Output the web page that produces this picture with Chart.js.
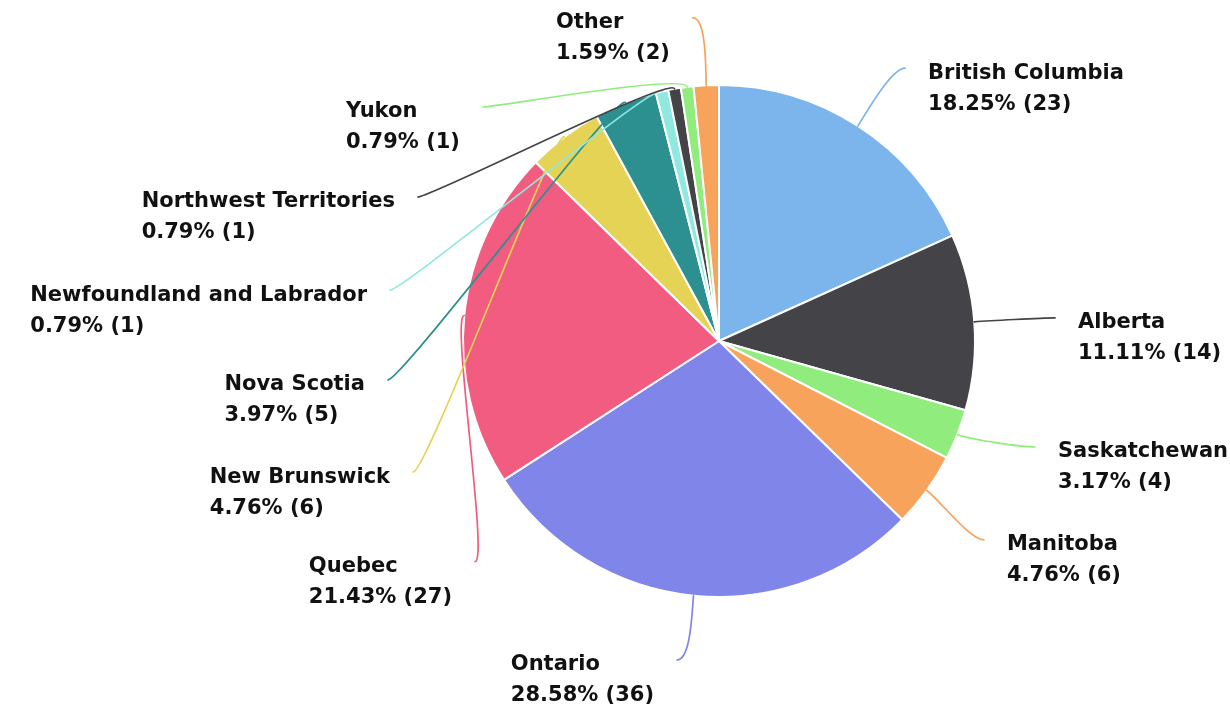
<!DOCTYPE html>
<html>
<head>
<meta charset="utf-8">
<script src="https://cdn.jsdelivr.net/npm/chart.js@4.4.1/dist/chart.umd.min.js"></script>
<style>
  html, body { margin: 0; padding: 0; background: #ffffff; }
  #wrap { width: 1230px; height: 708px; position: relative; }
</style>
</head>
<body>
<div id="wrap"><canvas id="c" width="1230" height="708"></canvas></div>
<script>
// ---- data ----
const categories = ['British Columbia', 'Alberta', 'Saskatchewan', 'Manitoba', 'Ontario', 'Quebec',
  'New Brunswick', 'Nova Scotia', 'Newfoundland and Labrador', 'Northwest Territories', 'Yukon', 'Other'];
const counts = [23, 14, 4, 6, 36, 27, 6, 5, 1, 1, 1, 2];
const percentLabels = ['18.25%', '11.11%', '3.17%', '4.76%', '28.58%', '21.43%',
  '4.76%', '3.97%', '0.79%', '0.79%', '0.79%', '1.59%'];

// ---- styling ----
const sliceColors = ['#7cb5ec', '#434348', '#90ed7d', '#f7a35c', '#8085e9', '#f15c80',
  '#e4d354', '#2b908f', '#91e8e1', '#434348', '#90ed7d', '#f7a35c'];
// label connector end points, in units of the pie radius relative to the pie centre
const labelAnchorX = [0.727, 1.3125, 1.234, 1.035, -0.164, -0.953, -1.195, -1.293, -1.285, -1.176, -0.922, -0.102];
const labelAnchorY = [-1.066, -0.090, 0.414, 0.777, 1.246, 0.862, 0.512, 0.152, -0.199, -0.5625, -0.914, -1.262];

const FONT = 'bold 21px "DejaVu Sans", sans-serif';
const LINE_GAP = 31;
const TEXT_GAP = 23;

const labelPlugin = {
  id: 'pieLabels',
  afterDatasetsDraw(chart) {
    const ctx = chart.ctx;
    const meta = chart.getDatasetMeta(0);
    ctx.save();
    ctx.font = FONT;
    ctx.textBaseline = 'middle';
    ctx.fillStyle = '#111111';
    meta.data.forEach((arc, i) => {
      const p = arc.getProps(['x', 'y', 'startAngle', 'endAngle', 'outerRadius'], true);
      const R = p.outerRadius;
      const a = (p.startAngle + p.endAngle) / 2;
      const cx = Math.cos(a), sy = Math.sin(a);
      const x0 = p.x + R * cx, y0 = p.y + R * sy;
      const ex = p.x + labelAnchorX[i] * R, ey = p.y + labelAnchorY[i] * R;
      const right = labelAnchorX[i] > 0 && i < 4;
      const d = 14;
      // connector
      ctx.beginPath();
      ctx.strokeStyle = sliceColors[i];
      ctx.lineWidth = 1.7;
      ctx.lineCap = 'round';
      ctx.moveTo(x0, y0);
      ctx.bezierCurveTo(x0 + cx * d, y0 + sy * d, ex + (right ? -d : d), ey, ex, ey);
      ctx.stroke();
      // text
      const line1 = categories[i];
      const line2 = percentLabels[i] + ' (' + counts[i] + ')';
      const w = Math.max(ctx.measureText(line1).width, ctx.measureText(line2).width);
      const tx = right ? ex + TEXT_GAP : ex - TEXT_GAP - w;
      ctx.textAlign = 'left';
      ctx.fillText(line1, tx, ey + 5);
      ctx.fillText(line2, tx, ey + 5 + LINE_GAP);
    });
    ctx.restore();
  }
};

function draw() {
  new Chart(document.getElementById('c'), {
    type: 'pie',
    data: {
      labels: categories,
      datasets: [{
        data: counts,
        backgroundColor: sliceColors,
        borderColor: '#ffffff',
        borderWidth: 2
      }]
    },
    options: {
      responsive: false,
      animation: false,
      layout: { padding: { left: 400, right: 192, top: 84, bottom: 110 } },
      plugins: {
        legend: { display: false },
        title: { display: false },
        tooltip: { enabled: false }
      }
    },
    plugins: [labelPlugin]
  });
}
if (document.fonts && document.fonts.load) {
  document.fonts.load(FONT).then(draw, draw);
} else { draw(); }
</script>
</body>
</html>
